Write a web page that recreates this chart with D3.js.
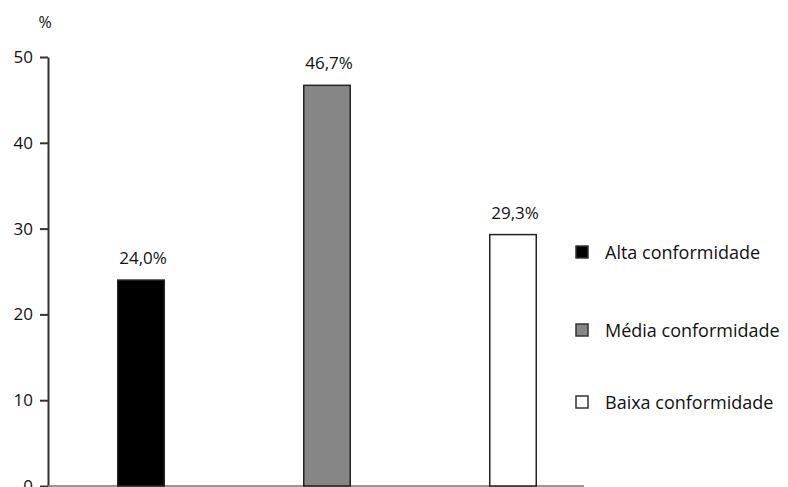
<!DOCTYPE html>
<html><head><meta charset="utf-8">
<script src="https://cdn.jsdelivr.net/npm/d3@7"></script>
<style>body{margin:0;background:#fff}svg{display:block;font-family:"Open Sans",sans-serif}</style>
</head><body><svg id="c" width="788" height="487"></svg>
<script>
const categories = ["Alta conformidade","Média conformidade","Baixa conformidade"];
const values = [24.0, 46.7, 29.3];
const valueLabels = ["24,0%","46,7%","29,3%"];
const colors = ["#000000","#868686","#ffffff"];
const yTicks = [0,10,20,30,40,50];

const svg = d3.select("#c");
const y = d3.scaleLinear().domain([0,50]).range([486,57]);
const x = d3.scaleBand().domain(categories).range([48,606]).paddingInner(0.75).paddingOuter(0.375);

// y axis
const yAxis = svg.append("g").attr("transform","translate(48,0)")
  .call(d3.axisLeft(y).tickValues(yTicks).tickSize(8).tickPadding(7).tickSizeOuter(0));
yAxis.select(".domain").attr("stroke","#333").attr("stroke-width",2);
yAxis.selectAll(".tick line").attr("stroke","#333").attr("stroke-width",2);
yAxis.selectAll(".tick text").attr("font-size",17).attr("fill","#111").attr("font-family","'Open Sans',sans-serif");

// x axis baseline
svg.append("line").attr("x1",48).attr("x2",584).attr("y1",y(0)).attr("y2",y(0))
  .attr("stroke","#777").attr("stroke-width",1.5);

svg.append("text").attr("x",45).attr("y",28).attr("text-anchor","middle")
  .attr("font-size",16).attr("fill","#111").text("%");

// bars
svg.selectAll("rect.bar").data(categories).join("rect").attr("class","bar")
  .attr("x",d=>x(d)).attr("width",x.bandwidth())
  .attr("y",(d,i)=>y(values[i])).attr("height",(d,i)=>y(0)-y(values[i]))
  .attr("fill",(d,i)=>colors[i]).attr("stroke","#222").attr("stroke-width",1.5);

svg.selectAll("text.val").data(categories).join("text").attr("class","val")
  .attr("x",d=>x(d)+x.bandwidth()/2+2).attr("y",(d,i)=>y(values[i])-16)
  .attr("text-anchor","middle").attr("font-size",17).attr("fill","#111")
  .text((d,i)=>valueLabels[i]);

// legend
const legY = [252, 330, 402];
const leg = svg.selectAll("g.leg").data(categories).join("g").attr("class","leg")
  .attr("transform",(d,i)=>`translate(576,${legY[i]})`);
leg.append("rect").attr("x",0).attr("y",-6).attr("width",12).attr("height",12)
  .attr("fill",(d,i)=>colors[i]).attr("stroke","#333").attr("stroke-width",1.5);
leg.append("text").attr("x",29).attr("y",6.5).attr("font-size",18).attr("fill","#111").text(d=>d);
</script></body></html>
